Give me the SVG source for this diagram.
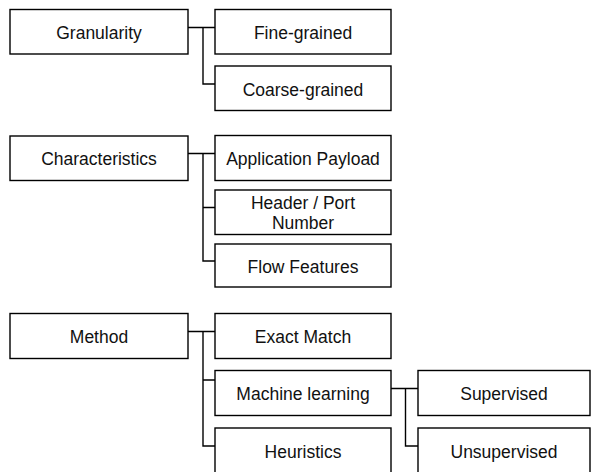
<svg xmlns="http://www.w3.org/2000/svg" width="591" height="472" viewBox="0 0 591 472">
<style>
.box{fill:#fff;stroke:#000;stroke-width:1.4}
.lbl{font-family:"Liberation Sans",Arial,Helvetica,sans-serif;font-size:17.5px;fill:#111;text-anchor:middle}
.conn{fill:none;stroke:#000;stroke-width:1.4}
</style>
<rect width="591" height="472" fill="#fff"/>
<g id="connectors">
<path class="conn" d="M188,27.5H215M203,27.5V84H215"/>
<path class="conn" d="M188,153.5H215M203,153.5V261H215M203,207.5H215"/>
<path class="conn" d="M188,331.5H215M203,331.5V446H215M203,380H215"/>
<path class="conn" d="M391,388.5H418M405.5,388.5V446H418"/>
</g>
<g id="granularity"><rect class="box" x="10" y="9.5" width="178" height="44.5"/><text class="lbl" x="99" y="39">Granularity</text></g>
<g id="fine-grained"><rect class="box" x="215" y="9.5" width="176" height="44.5"/><text class="lbl" x="303" y="39">Fine-grained</text></g>
<g id="coarse-grained"><rect class="box" x="215" y="66" width="176" height="44.5"/><text class="lbl" x="303" y="95.5">Coarse-grained</text></g>
<g id="characteristics"><rect class="box" x="10" y="136" width="178" height="44.5"/><text class="lbl" x="99" y="165">Characteristics</text></g>
<g id="application-payload"><rect class="box" x="215" y="135.5" width="176" height="45"/><text class="lbl" x="303" y="165">Application Payload</text></g>
<g id="header-port"><rect class="box" x="215" y="190" width="176" height="44.5"/><text class="lbl" x="303" y="209">Header / Port</text><text class="lbl" x="303" y="229">Number</text></g>
<g id="flow-features"><rect class="box" x="215" y="244" width="176" height="43"/><text class="lbl" x="303" y="272.5">Flow Features</text></g>
<g id="method"><rect class="box" x="10" y="313.5" width="178" height="45"/><text class="lbl" x="99" y="343">Method</text></g>
<g id="exact-match"><rect class="box" x="215" y="313.5" width="176" height="45"/><text class="lbl" x="303" y="343">Exact Match</text></g>
<g id="machine-learning"><rect class="box" x="215" y="370.5" width="176" height="45"/><text class="lbl" x="303" y="400">Machine learning</text></g>
<g id="heuristics"><rect class="box" x="215" y="428" width="176" height="47"/><text class="lbl" x="303" y="457.5">Heuristics</text></g>
<g id="supervised"><rect class="box" x="418" y="370.5" width="172" height="45"/><text class="lbl" x="504" y="400">Supervised</text></g>
<g id="unsupervised"><rect class="box" x="418" y="428" width="172" height="47"/><text class="lbl" x="504" y="457.5">Unsupervised</text></g>
</svg>
